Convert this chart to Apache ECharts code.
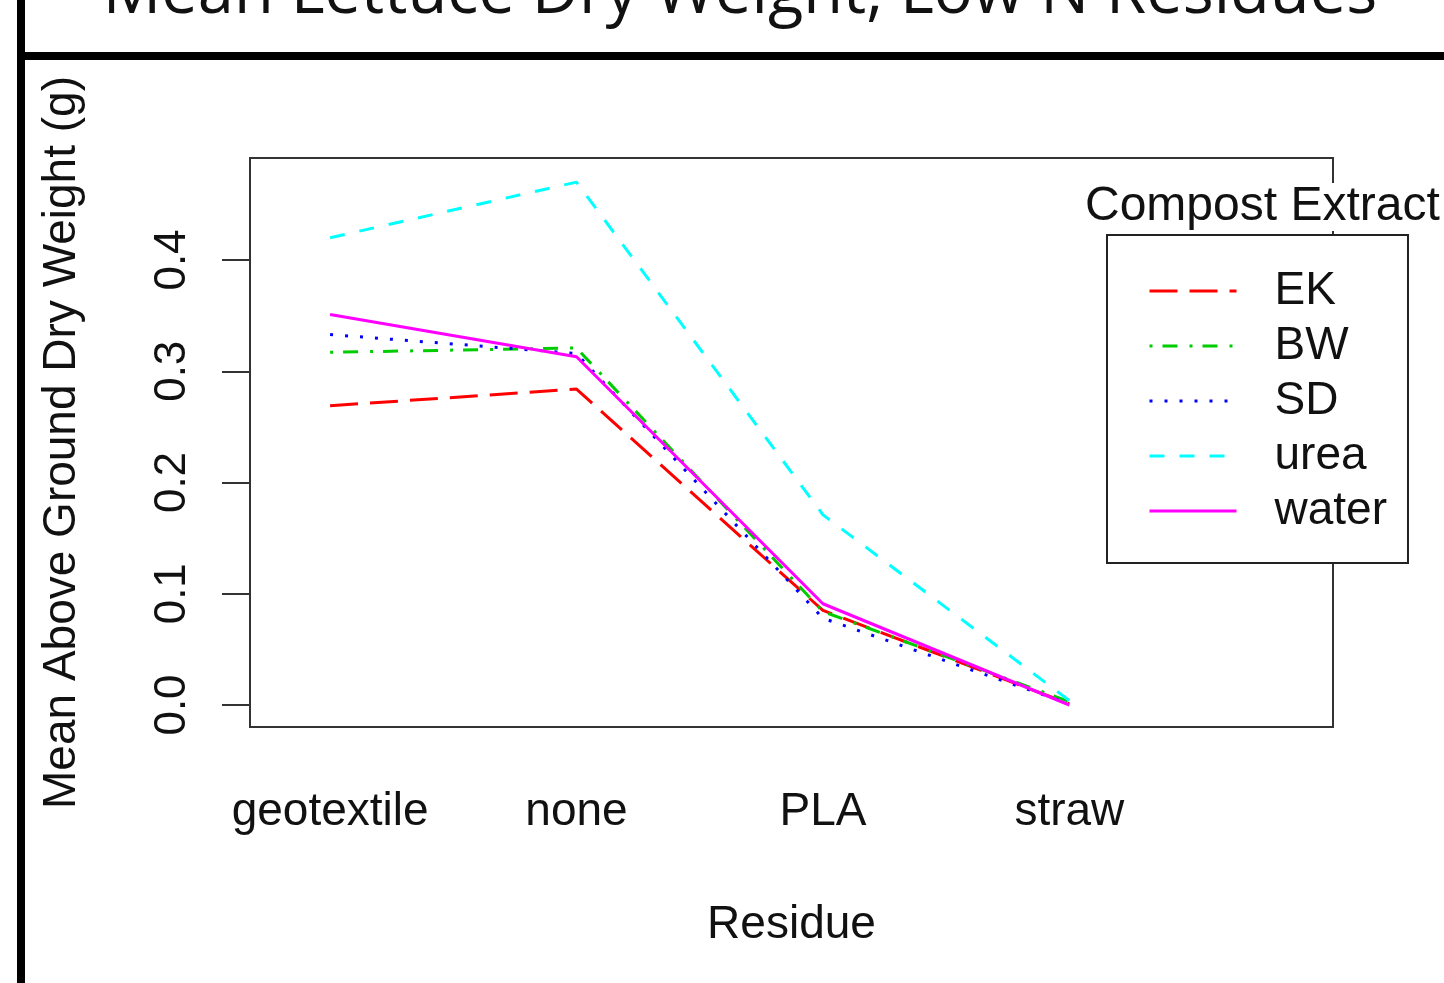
<!DOCTYPE html>
<html>
<head>
<meta charset="utf-8">
<script src="https://cdn.jsdelivr.net/npm/echarts@6/dist/echarts.min.js"></script>
<style>
html,body{margin:0;padding:0;background:#fff;}
#chart{width:1444px;height:983px;}
</style>
</head>
<body>
<div id="chart"></div>
<script>
const categories = ['geotextile', 'none', 'PLA', 'straw'];
const seriesNames = ['EK', 'BW', 'SD', 'urea', 'water'];
const ek    = [0.269, 0.284, 0.085, 0.001];
const bw    = [0.317, 0.321, 0.084, 0.003];
const sd    = [0.333, 0.316, 0.078, 0.001];
const urea  = [0.420, 0.470, 0.171, 0.004];
const water = [0.351, 0.313, 0.091, 0.000];
const yTicks = [0, 0.1, 0.2, 0.3, 0.4];
const titleText = 'Mean Lettuce Dry Weight, Low N Residues';
const yTitle = 'Mean Above Ground Dry Weight (g)';
const xTitle = 'Residue';
const legendTitle = 'Compost Extract';

const values = [ek, bw, sd, urea, water];
const colors = ['#FF0000', '#00CD00', '#0000FF', '#00FFFF', '#FF00FF'];
const dashes = [[28, 12], [3, 10, 15, 12], [3, 12], [15, 15], 'solid'];
const xPos = categories.map((c, i) => i + 1);

const font = 'Liberation Sans, Arial, Helvetica, sans-serif';
const chart = echarts.init(document.getElementById('chart'), null, {renderer: 'canvas'});

const series = seriesNames.map((name, k) => ({
  name: name,
  type: 'line',
  symbol: 'none',
  data: values[k].map((v, i) => [xPos[i], v]),
  lineStyle: {color: colors[k], width: 3, type: dashes[k], cap: 'butt'},
  itemStyle: {color: colors[k]},
  z: 2 + k,
  animation: false
}));

chart.setOption({
  animation: false,
  backgroundColor: '#fff',
  textStyle: {fontFamily: font},
  title: {
    text: legendTitle,
    left: 1085, top: 183, padding: 0,
    backgroundColor: '#fff',
    textStyle: {fontFamily: font, fontSize: 48, fontWeight: 'normal', color: '#111', lineHeight: 48}
  },
  grid: {
    left: 250, top: 158, width: 1083, height: 569,
    show: true, borderColor: '#333', borderWidth: 2, backgroundColor: 'transparent'
  },
  xAxis: {
    type: 'value', min: 0.675, max: 5.07,
    axisLine: {show: false}, axisTick: {show: false}, splitLine: {show: false},
    axisLabel: {
      customValues: xPos,
      formatter: v => categories[Math.round(v) - 1] || '',
      fontSize: 46, color: '#111', margin: 62, fontFamily: font
    },
    name: xTitle, nameLocation: 'middle', nameGap: 175,
    nameTextStyle: {fontSize: 46, color: '#111', fontFamily: font}
  },
  yAxis: {
    type: 'value', min: -0.01978, max: 0.49169,
    axisLine: {show: false}, splitLine: {show: false},
    axisTick: {show: true, customValues: yTicks, length: 28, lineStyle: {color: '#333', width: 2}},
    axisLabel: {
      customValues: yTicks, rotate: 90,
      formatter: v => v.toFixed(1),
      fontSize: 44, color: '#111', margin: 55, fontFamily: font
    },
    name: yTitle, nameLocation: 'middle', nameRotate: 90, nameGap: 165,
    nameTextStyle: {fontSize: 46, color: '#111', fontFamily: font}
  },
  legend: {
    data: seriesNames,
    orient: 'vertical',
    left: 1107, top: 235,
    padding: [33, 21, 29, 41],
    itemWidth: 87, itemHeight: 20, itemGap: 9,
    backgroundColor: '#fff',
    borderColor: '#222', borderWidth: 2,
    itemStyle: {opacity: 0},
    lineStyle: {width: 3},
    textStyle: {fontSize: 46, color: '#111', lineHeight: 46, padding: [0, 0, 0, 33], fontFamily: font},
    z: 10
  },
  graphic: [
    {type: 'rect', shape: {x: 17, y: 0, width: 8, height: 983}, style: {fill: '#000'}, z: 100},
    {type: 'rect', shape: {x: 17, y: 52, width: 1427, height: 8}, style: {fill: '#000'}, z: 100},
    {type: 'text', x: 740, y: -6, style: {text: titleText, fontSize: 65, fontFamily: 'Open Sans, sans-serif', fill: '#111', align: 'center', verticalAlign: 'middle'}, z: 100}
  ],
  series: series
});
</script>
</body>
</html>
